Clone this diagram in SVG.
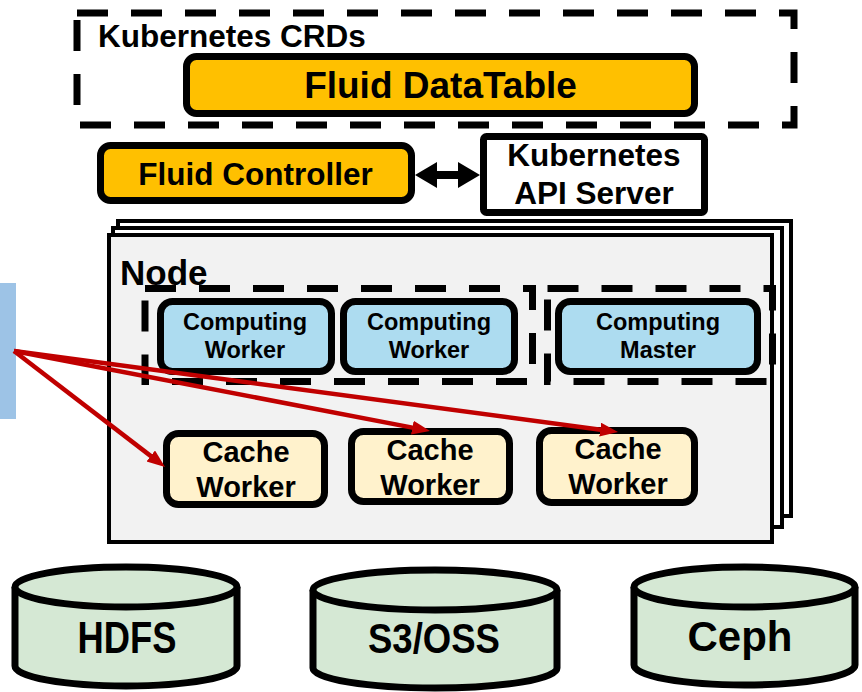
<svg xmlns="http://www.w3.org/2000/svg" width="862" height="692" viewBox="0 0 862 692">
<style>
text{font-family:"Liberation Sans",Arial,sans-serif;font-weight:bold;fill:#000}
.c{text-anchor:middle}
.box{stroke:#000;stroke-width:7}
.dash{fill:none;stroke:#000;stroke-width:7;stroke-dasharray:31 23}
.yel{fill:#FFC000}
.blue{fill:#ADDCF0}
.cream{fill:#FFF2CC}
.cyl{stroke:#000;stroke-width:7;fill:#D5E8D4}
.stack{stroke:#000;stroke-width:4}
.red{stroke:#C00000;stroke-width:4.5;fill:none}
.narrow{font-family:"Liberation Sans Narrow","Liberation Sans",Arial,sans-serif}
</style>
<defs>
<marker id="rh" markerUnits="userSpaceOnUse" markerWidth="20" markerHeight="16" refX="8" refY="7" orient="auto">
<path d="M0,0 L18,7 L0,14 z" fill="#C00000"/>
</marker>
<marker id="bh" markerUnits="userSpaceOnUse" markerWidth="24" markerHeight="28" refX="2" refY="13" orient="auto-start-reverse">
<path d="M0,0 L22,13 L0,26 z" fill="#000"/>
</marker>
</defs>

<g id="crds">
<rect class="dash" x="77" y="13" width="717" height="112"/>
<text x="98" y="47" font-size="31.5">Kubernetes CRDs</text>
</g>

<g id="datatable">
<rect class="box yel" x="186.5" y="56.5" width="508" height="57" rx="10"/>
<text class="c" x="440.5" y="98" font-size="37">Fluid DataTable</text>
</g>

<g id="controller">
<rect class="box yel" x="100.5" y="145.5" width="311" height="55" rx="10"/>
<text class="c" x="255.5" y="185" font-size="31.5">Fluid Controller</text>
</g>

<g id="apiserver">
<rect class="box" fill="#fff" x="483.5" y="136.5" width="221" height="76" rx="3"/>
<text class="c" x="594" y="166" font-size="31.5">Kubernetes</text>
<text class="c" x="594" y="204" font-size="31.5">API Server</text>
</g>

<g id="node">
<rect class="stack" fill="#fff" x="118" y="221" width="673" height="295"/>
<rect class="stack" fill="#fff" x="113" y="228" width="669" height="299"/>
<rect class="stack" fill="#F2F2F2" x="109" y="235" width="663" height="307"/>
<text x="120" y="285" font-size="35">Node</text>
</g>

<g id="computing-group">
<rect class="dash" x="145" y="288.5" width="387.5" height="93"/>
</g>
<g id="master-group">
<rect class="dash" x="547.5" y="288.5" width="225" height="93"/>
</g>

<g id="computing-worker-1">
<rect class="box blue" x="160.5" y="301.5" width="171" height="70" rx="12"/>
<text class="c" x="245" y="330" font-size="23.5">Computing</text>
<text class="c" x="245" y="358" font-size="23.5">Worker</text>
</g>
<g id="computing-worker-2">
<rect class="box blue" x="343.5" y="301.5" width="171" height="70" rx="12"/>
<text class="c" x="429" y="330" font-size="23.5">Computing</text>
<text class="c" x="429" y="358" font-size="23.5">Worker</text>
</g>
<g id="computing-master">
<rect class="box blue" x="558.5" y="301.5" width="199" height="70" rx="12"/>
<text class="c" x="658" y="330" font-size="23.5">Computing</text>
<text class="c" x="658" y="358" font-size="23.5">Master</text>
</g>

<g id="cache-worker-1">
<rect class="box cream" x="166.5" y="433.5" width="158" height="71" rx="12"/>
<text class="c" x="246" y="462" font-size="29">Cache</text>
<text class="c" x="246" y="497" font-size="29">Worker</text>
</g>
<g id="cache-worker-2">
<rect class="box cream" x="351.5" y="431.5" width="158" height="70" rx="12"/>
<text class="c" x="430" y="460" font-size="29">Cache</text>
<text class="c" x="430" y="495" font-size="29">Worker</text>
</g>
<g id="cache-worker-3">
<rect class="box cream" x="539.5" y="430.5" width="155" height="72" rx="12"/>
<text class="c" x="618" y="459" font-size="29">Cache</text>
<text class="c" x="618" y="494" font-size="29">Worker</text>
</g>

<g id="client">
<rect x="0" y="283" width="16" height="136" fill="#9DC3E6"/>
</g>

<g id="hdfs">
<path class="cyl" d="M15,587 A111,20 0 0 1 237,587 V666 A111,20 0 0 1 15,666 Z"/>
<path class="cyl" d="M15,587 A111,20 0 0 0 237,587"/>
<text class="c narrow" x="127" y="653" font-size="44" textLength="99" lengthAdjust="spacingAndGlyphs">HDFS</text>
</g>
<g id="s3oss">
<path class="cyl" d="M313,590 A122,20 0 0 1 557,590 V668 A122,20 0 0 1 313,668 Z"/>
<path class="cyl" d="M313,590 A122,20 0 0 0 557,590"/>
<text class="c narrow" x="434" y="653" font-size="42" textLength="132" lengthAdjust="spacingAndGlyphs">S3/OSS</text>
</g>
<g id="ceph">
<path class="cyl" d="M634,587 A110.5,20 0 0 1 855,587 V665 A110.5,20 0 0 1 634,665 Z"/>
<path class="cyl" d="M634,587 A110.5,20 0 0 0 855,587"/>
<text class="c narrow" x="740" y="651" font-size="43" textLength="105" lengthAdjust="spacingAndGlyphs">Ceph</text>
</g>

<g id="connectors">
<line x1="435" y1="175" x2="460" y2="175" stroke="#000" stroke-width="8" marker-start="url(#bh)" marker-end="url(#bh)"/>
<line class="red" x1="14" y1="351" x2="157.1" y2="460.9" marker-end="url(#rh)"/>
<line class="red" x1="14" y1="351" x2="420.2" y2="429.1" marker-end="url(#rh)"/>
<line class="red" x1="14" y1="351" x2="608.1" y2="430.7" marker-end="url(#rh)"/>
</g>
</svg>
